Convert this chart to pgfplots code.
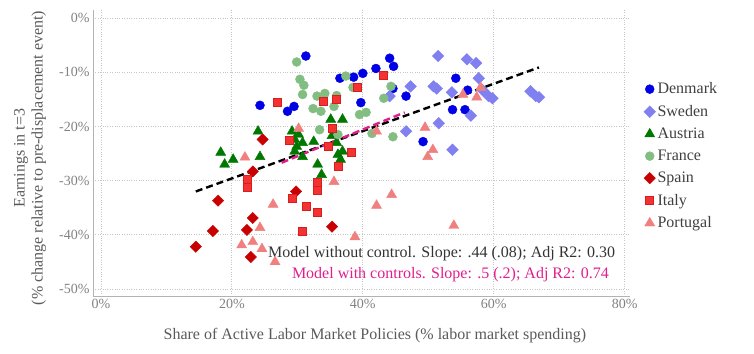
\documentclass[border=0pt]{standalone}
\usepackage{pgfplots}
\pgfplotsset{compat=1.18}
\usepackage{fontspec}
\setmainfont{Liberation Serif}
\definecolor{cDen}{RGB}{0,0,230}
\definecolor{cSwe}{RGB}{128,128,240}
\definecolor{cAus}{RGB}{0,120,0}
\definecolor{cFra}{RGB}{130,190,130}
\definecolor{cSpa}{RGB}{200,0,0}
\definecolor{cIta}{RGB}{245,50,50}
\definecolor{cItaE}{RGB}{215,30,30}
\definecolor{cPor}{RGB}{240,128,128}
\definecolor{cPink}{RGB}{225,30,140}
\definecolor{cLab}{RGB}{90,90,90}
\definecolor{cTick}{RGB}{130,130,130}
\begin{document}
\begin{tikzpicture}[x=1pt,y=1pt]
\path[use as bounding box] (0,0) rectangle (754,353);
\begin{axis}[
  at={(93pt,57pt)}, anchor=south west,
  scale only axis, width=537pt, height=286pt,
  xmin=-1.2, xmax=80.8, ymin=-51.3, ymax=1.5,
  axis x line*=bottom, axis y line*=left,
  axis line style={draw=gray!60, line width=1pt},
  major tick length=0pt,
  xtick={0,20,40,60,80}, xticklabels={0\%,20\%,40\%,60\%,80\%},
  ytick={-50,-40,-30,-20,-10,0}, yticklabels={-50\%,-40\%,-30\%,-20\%,-10\%,0\%},
  tick label style={font=\fontsize{14}{16}\selectfont, text=cTick},
  grid=major, grid style={dotted, gray!45, line width=0.7pt},
  xlabel={Share of Active Labor Market Policies (\% labor market spending)},
  xlabel style={font=\fontsize{16}{19}\selectfont, text=cLab, at={(axis description cs:0.525,-0.14)}, anchor=center},
  ylabel={Earnings in t=3\\(\% change relative to pre-displacement event)},
  ylabel style={font=\fontsize{16}{18}\selectfont, text=cLab, align=center, at={(axis description cs:-0.1173,0.4825)}, anchor=center},
  legend style={at={(axis description cs:1.02,0.76)}, anchor=north west, draw=none, fill=none,
    font=\fontsize{16}{19}\selectfont, text=black!75, row sep=6pt},
  legend cell align=left,
  clip=false,
]
% Denmark
\addplot[only marks, mark=*, mark size=4.5pt, color=cDen] coordinates {
(31.3,-7.0) (24.3,-16.1) (29.5,-16.3) (28.5,-17.2) (36.5,-11.1) (38.6,-10.9)
(40.0,-10.2) (42.0,-9.3) (44.1,-7.4) (44.7,-8.9) (44.6,-13.0) (39.7,-15.6)
(46.6,-14.4) (54.2,-11.1) (56.0,-13.3) (53.7,-16.9) (55.6,-16.9) (49.2,-22.8)};
\addlegendentry{Denmark}
% Sweden
\addplot[only marks, mark=square*, mark size=4.1pt, mark options={rotate=45}, color=cSwe] coordinates {
(51.5,-7.0) (55.9,-7.6) (57.3,-8.3) (57.7,-11.1) (47.3,-12.6) (50.8,-12.6)
(51.3,-13.0) (53.6,-13.7) (58.3,-13.3) (59.2,-14.4) (59.8,-14.8) (44.1,-14.4)
(56.5,-18.0) (51.6,-19.4) (46.6,-20.9) (53.7,-24.3) (65.6,-13.5) (66.4,-14.4) (66.9,-14.6)};
\addlegendentry{Sweden}
% Austria
\addplot[only marks, mark=triangle*, mark size=5.8pt, color=cAus] coordinates {
(18.3,-24.8) (18.9,-27.0) (20.2,-26.1) (24.0,-20.9) (24.3,-25.6) (29.2,-20.9)
(29.6,-22.4) (29.9,-23.7) (30.8,-23.0) (32.5,-22.8) (29.6,-24.6) (30.8,-25.6)
(33.1,-27.0) (33.7,-28.9) (35.1,-18.7) (36.9,-18.7) (35.3,-21.7) (36.0,-23.0)
(36.2,-25.2) (36.9,-24.6) (36.6,-26.1) (30.2,-21.5)};
\addlegendentry{Austria}
% France
\addplot[only marks, mark=*, mark size=4.5pt, color=cFra] coordinates {
(29.9,-8.1) (30.4,-11.3) (31.0,-12.4) (30.8,-14.1) (33.0,-14.4) (34.2,-13.9)
(36.0,-14.3) (37.4,-10.7) (38.5,-12.8) (32.4,-16.7) (33.6,-17.2) (35.6,-16.3)
(39.5,-17.8) (40.5,-17.4) (33.4,-20.6) (36.2,-21.5) (44.3,-12.6) (43.2,-14.8)
(41.4,-21.3) (44.6,-21.9)};
\addlegendentry{France}
% Spain
\addplot[only marks, mark=square*, mark size=4.0pt, mark options={rotate=45}, color=cSpa] coordinates {
(23.2,-28.3) (17.9,-33.7) (29.8,-32.0) (23.2,-36.9) (17.1,-39.3) (22.3,-39.1)
(14.5,-42.2) (22.9,-44.1) (35.3,-38.5) (24.7,-22.4)};
\addlegendentry{Spain}
% Italy
\addplot[only marks, mark=square*, mark size=4.0pt, mark options={fill=cIta, draw=cItaE, line width=0.6pt}] coordinates {
(26.9,-15.6) (33.9,-15.4) (36.0,-15.0) (39.2,-12.8) (43.2,-10.6) (28.7,-22.6)
(35.3,-20.4) (34.8,-23.7) (38.3,-24.8) (36.2,-27.4) (22.4,-29.8) (22.4,-31.3)
(33.1,-30.4) (33.1,-31.7) (29.3,-33.3) (31.3,-34.8) (33.1,-35.9) (30.7,-39.4)};
\addlegendentry{Italy}
% Portugal
\addplot[only marks, mark=triangle*, mark size=5.8pt, color=cPor] coordinates {
(30.2,-20.4) (22.0,-25.7) (35.6,-30.2) (26.3,-34.4) (24.3,-38.7) (21.5,-41.9)
(23.2,-41.3) (24.6,-42.6) (26.6,-45.0) (38.8,-40.4) (42.1,-34.6) (44.4,-32.6)
(53.9,-38.3) (42.1,-20.9) (49.5,-20.2) (50.7,-24.3) (49.9,-25.6) (55.3,-14.1)
(57.4,-14.6) (58.0,-12.8)};
\addlegendentry{Portugal}
% regression lines
\addplot[forget plot, black, line width=2.4pt, dash pattern=on 7pt off 4pt] coordinates {(14.5,-32.0) (66.9,-9.1)};
\addplot[forget plot, cPink, line width=2.4pt, dash pattern=on 7pt off 4pt] coordinates {(27.6,-26.7) (46.4,-17.4)};
\node[anchor=west, font=\fontsize{16}{19}\selectfont, text=black!80] at (axis cs:25.0,-43.5) {Model without control. Slope: .44 (.08); Adj R2: 0.30};
\node[anchor=west, font=\fontsize{16}{19}\selectfont, text=cPink] at (axis cs:28.65,-47.4) {Model with controls. Slope: .5 (.2); Adj R2: 0.74};
\end{axis}
\end{tikzpicture}
\end{document}
